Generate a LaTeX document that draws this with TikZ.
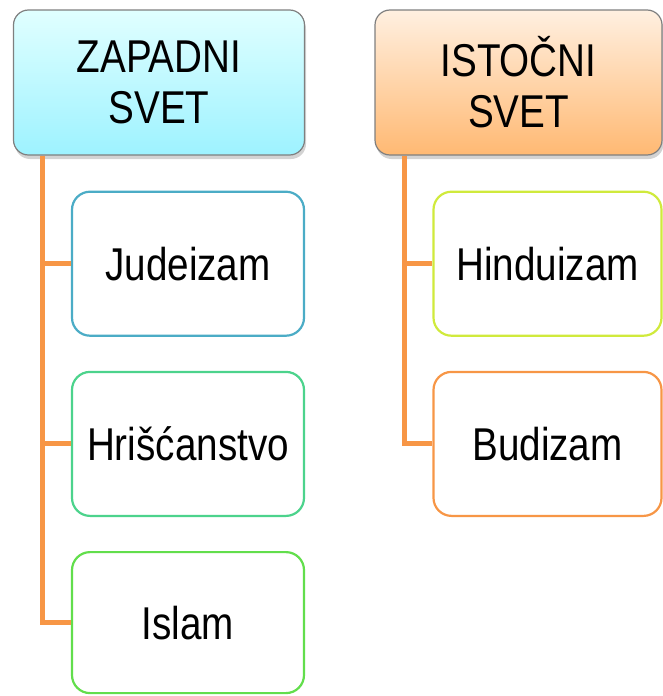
\documentclass[tikz,border=0pt]{standalone}
\usepackage{fontspec}
\setmainfont{Liberation Sans}[FakeStretch=0.84]
\usepackage{xcolor}
\usetikzlibrary{positioning,shadows}
\definecolor{trunk}{HTML}{F79646}
\definecolor{headline}{HTML}{7F7F7F}
\definecolor{judline}{HTML}{4BACC6}
\definecolor{hriline}{HTML}{4CD38C}
\definecolor{islline}{HTML}{62DE4C}
\definecolor{hinline}{HTML}{D0EA3C}
\definecolor{budline}{HTML}{F79646}
\begin{document}
\begin{tikzpicture}[x=1pt, y=-1pt, node distance=34pt, every node/.style={align=center, font=\fontsize{46}{51}\selectfont, inner sep=0pt}, head/.style={draw=headline, line width=1.2pt, rounded corners=15pt, minimum height=145pt, drop shadow={shadow xshift=1.5pt, shadow yshift=-4pt, opacity=0.35}}, leaf/.style={draw, line width=2.2pt, rounded corners=18pt, fill=white, minimum height=144pt}, conn/.style={draw=trunk, line width=5pt}]
\useasboundingbox (0,0) rectangle (663,696);
\node[head, minimum width=291pt, top color=cyan!12, bottom color=cyan!35!white!95!blue] (zap) at (159,82.5) {ZAPADNI\\SVET};
\node[head, minimum width=287pt, top color=orange!12, bottom color=orange!55!white] (ist) at (518.5,82.5) {ISTOČNI\\SVET};
\node[leaf, draw=judline, minimum width=232pt, below=35pt of zap.south east, anchor=north east] (jud) {Judeizam};
\node[leaf, draw=hriline, minimum width=232pt, below=of jud] (hri) {Hrišćanstvo};
\node[leaf, draw=islline, minimum width=232pt, minimum height=141pt, below=of hri] (isl) {Islam};
\node[leaf, draw=hinline, minimum width=228pt, below=35pt of ist.south east, anchor=north east] (hin) {Hinduizam};
\node[leaf, draw=budline, minimum width=228pt, below=of hin] (bud) {Budizam};
\coordinate[right=30pt of zap.south west] (ztrunk);
\coordinate[right=30pt of ist.south west] (itrunk);
\draw[conn] (ztrunk) |- (isl.west); \draw[conn] (ztrunk |- jud.west) -- (jud.west); \draw[conn] (ztrunk |- hri.west) -- (hri.west);
\draw[conn] (itrunk) |- (bud.west); \draw[conn] (itrunk |- hin.west) -- (hin.west);
\end{tikzpicture}
\end{document}
